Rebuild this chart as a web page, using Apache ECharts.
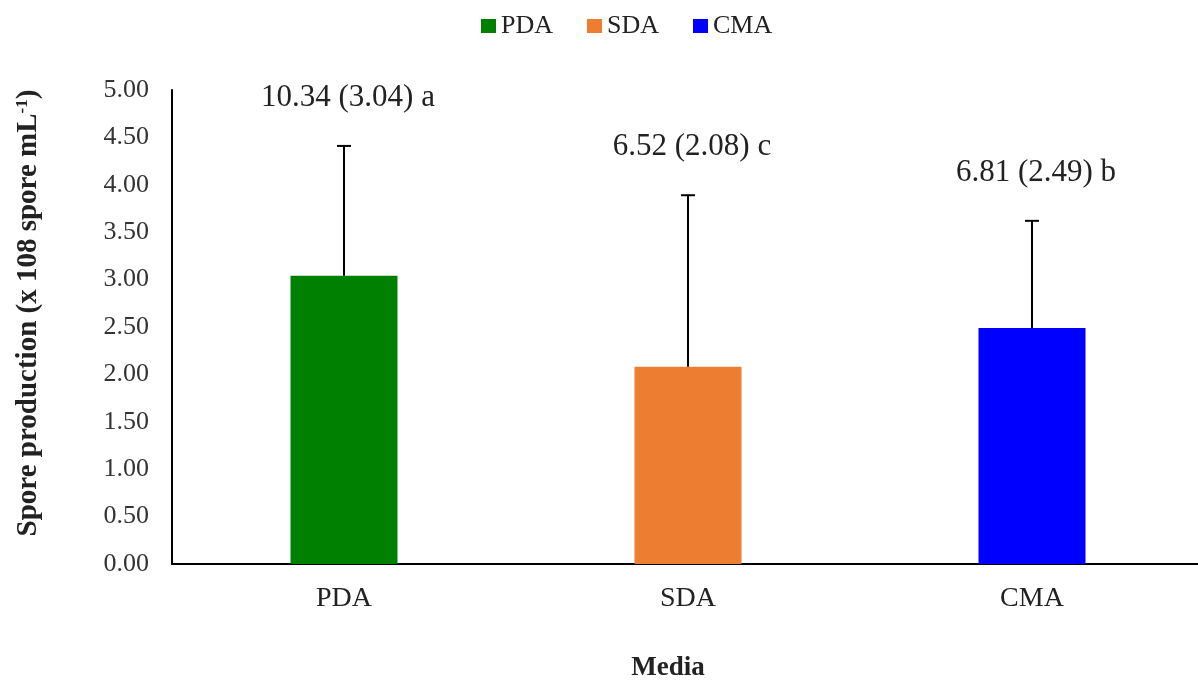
<!DOCTYPE html>
<html>
<head>
<meta charset="utf-8">
<script src="https://cdn.jsdelivr.net/npm/echarts@6/dist/echarts.min.js"></script>
<style>
    html, body { margin: 0; padding: 0; background: #fff; }
    #chart { width: 1198px; height: 683px; }
</style>
</head>
<body>
<div id="chart"></div>
<script>
    // data
    var categories = ['PDA', 'SDA', 'CMA'];
    var means = [3.04, 2.08, 2.49];
    var errors = [1.37, 1.81, 1.13];
    var barLabels = ['10.34 (3.04) a', '6.52 (2.08) c', '6.81 (2.49) b'];
    var yTicks = [0, 5, 0.5];   // min, max, interval
    var colorList = ['#008000', '#ED7D31', '#0000FF'];

    var font = '"Liberation Serif", "Times New Roman", serif';

    // one bar series per medium so the legend gets three entries
    var barSeries = categories.map(function (name, i) {
        return {
            name: name,
            type: 'bar',
            barWidth: 107,
            barGap: '-100%',
            itemStyle: { color: colorList[i] },
            data: categories.map(function (c, j) {
                return j === i ? means[i] : '-';
            })
        };
    });

    var errSeries = {
        type: 'custom',
        z: 5,
        silent: true,
        data: categories.map(function (c, i) {
            return [c, means[i], means[i] + errors[i], i];
        }),
        renderItem: function (params, api) {
            var base = api.coord([api.value(0), api.value(1)]);
            var top = api.coord([api.value(0), api.value(2)]);
            var idx = api.value(3);
            var line = { stroke: '#000', lineWidth: 2 };
            return {
                type: 'group',
                children: [
                    { type: 'line', shape: { x1: base[0], y1: base[1], x2: top[0], y2: top[1] }, style: line },
                    { type: 'line', shape: { x1: top[0] - 7, y1: top[1], x2: top[0] + 7, y2: top[1] }, style: line },
                    {
                        type: 'text',
                        style: {
                            text: barLabels[idx],
                            x: top[0] + 4,
                            y: top[1] - 48,
                            align: 'center',
                            verticalAlign: 'middle',
                            fontSize: 31,
                            fontFamily: font,
                            fill: '#222'
                        }
                    }
                ]
            };
        }
    };

    var myChart = echarts.init(document.getElementById('chart'));
    var option = {
        animation: false,
        textStyle: { fontFamily: font },
        legend: {
            data: categories,
            left: 476,
            top: 8,
            icon: 'rect',
            itemWidth: 15,
            itemHeight: 14,
            itemGap: 34,
            textStyle: { fontSize: 26, color: '#222', fontFamily: font }
        },
        grid: {
            left: 172,
            top: 90,
            bottom: 119,
            width: 1032,
            outerBoundsMode: 'none'
        },
        xAxis: {
            type: 'category',
            data: categories,
            axisLine: { lineStyle: { color: '#000', width: 2 } },
            axisTick: { show: false },
            axisLabel: { fontSize: 28, color: '#222', margin: 21, fontFamily: font },
            name: 'Media',
            nameLocation: 'middle',
            nameGap: 91,
            nameTextStyle: {
                fontSize: 27,
                fontWeight: 'bold',
                color: '#222',
                fontFamily: font,
                padding: [0, 40, 0, 0]
            }
        },
        yAxis: {
            type: 'value',
            min: yTicks[0],
            max: yTicks[1],
            interval: yTicks[2],
            axisLine: { show: true, lineStyle: { color: '#000', width: 2 } },
            axisTick: { show: false },
            splitLine: { show: false },
            axisLabel: {
                fontSize: 26,
                color: '#333',
                margin: 23,
                fontFamily: font,
                formatter: function (v) { return v.toFixed(2); }
            },
            name: 'Spore production (x 108 spore mL{sup|-1})',
            nameLocation: 'middle',
            nameGap: 129,
            nameTextStyle: {
                fontSize: 29,
                fontWeight: 'bold',
                color: '#222',
                fontFamily: font,
                padding: [0, 0, 0, 28],
                rich: {
                    sup: {
                        fontSize: 17,
                        fontWeight: 'bold',
                        color: '#222',
                        fontFamily: font,
                        verticalAlign: 'top',
                        padding: [0, 0, 11, 0]
                    }
                }
            }
        },
        series: barSeries.concat([errSeries])
    };
    myChart.setOption(option);
    window.addEventListener('resize', function () {
        myChart.resize();
    });
</script>
</body>
</html>
